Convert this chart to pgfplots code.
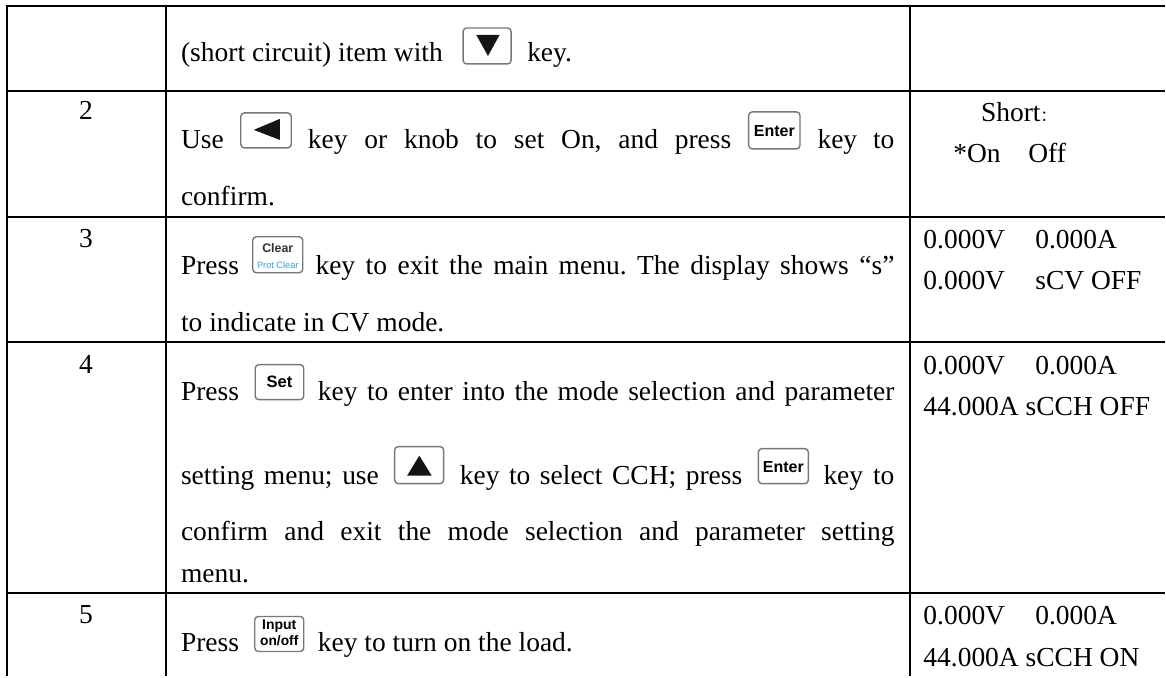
\documentclass[border=0pt]{standalone}
\usepackage{fontspec}
\setmainfont{Liberation Serif}
\newfontfamily\keyfont{Liberation Sans}
\newfontfamily\cjk{Noto Sans CJK SC}
\usepackage{pgfplots}
\pgfplotsset{compat=1.18}
\definecolor{keyedge}{HTML}{777777}
\definecolor{protblue}{HTML}{3A9AD9}
\pgfplotsset{rule/.style={black,line width=2bp,no marks,forget plot},
  arrowhead/.style={draw=none,fill=black!92,no marks,forget plot}}
\tikzset{tt/.style={anchor=base west,inner sep=0pt,font=\fontsize{27.5bp}{30bp}\selectfont\frenchspacing}}
\newcommand{\tx}[3]{\node[tt] at (axis cs:#1,#2) {#3};}
\newcommand{\jt}[4]{\node[tt] at (axis cs:#1,#2) {\makebox[#3bp][s]{#4}};}
\newcommand{\keybox}[4]{\draw[rounded corners=3.5bp,draw=keyedge,line width=1.4bp,fill=white] (axis cs:#1,#2) rectangle (axis cs:#3,#4);}
\newcommand{\keytext}[4]{\node[inner sep=0pt,font=\keyfont\bfseries\fontsize{#3bp}{#3bp}\selectfont] at (axis cs:#1,#2) {#4};}
\begin{document}
\begin{tikzpicture}
\begin{axis}[
  width=1166bp,height=677bp,scale only axis,
  xmin=0,xmax=1166,ymin=0,ymax=677,y dir=reverse,
  axis lines=none,clip=false,ticks=none]
\path (axis cs:0,0) rectangle (axis cs:1166,677);
% table rules
\addplot[rule] coordinates {(6,6) (1166,6)};
\addplot[rule] coordinates {(6,90.7) (1166,90.7)};
\addplot[rule] coordinates {(6,216.7) (1166,216.7)};
\addplot[rule] coordinates {(6,342.7) (1166,342.7)};
\addplot[rule] coordinates {(6,594) (1166,594)};
\addplot[rule] coordinates {(6.7,5) (6.7,677)};
\addplot[rule] coordinates {(166,5) (166,677)};
\addplot[rule] coordinates {(911,5) (911,677)};
% row numbers
\tx{79}{120}{2}
\tx{79}{248}{3}
\tx{79}{374}{4}
\tx{79}{624}{5}
% row 1
\tx{181}{62}{(short circuit) item with}
\keybox{463.5}{28}{511.5}{64}
\addplot[arrowhead] coordinates {(476.7,35) (500,35) (488.4,56) (476.7,35)};
\tx{527.5}{62}{key.}
% row 2
\tx{181}{148.5}{Use}
\keybox{241}{113}{291.5}{148}
\addplot[arrowhead] coordinates {(254,130) (280,119) (280,140) (254,130)};
\jt{308}{148.5}{423.7}{key or knob to set On, and press}
\keybox{749.3}{112}{800.7}{149}
\keytext{775}{131}{16}{Enter}
\jt{818}{148.5}{77}{key to}
\tx{181}{206}{confirm.}
% row 3
\tx{181}{275}{Press}
\keybox{253}{237}{303}{273}
\node[inner sep=0pt,font=\keyfont\bfseries\fontsize{12.4bp}{12.4bp}\selectfont,text=black!80] at (axis cs:278,248) {Clear};
\node[inner sep=0pt,font=\keyfont\fontsize{9.2bp}{9.2bp}\selectfont,text=protblue] at (axis cs:278,265) {Prot Clear};
\jt{315.6}{275}{579.4}{key to exit the main menu. The display shows “s”}
\tx{181}{332}{to indicate in CV mode.}
% row 4
\tx{181}{400.5}{Press}
\keybox{255.5}{365}{304}{400}
\keytext{279.7}{382}{16.5}{Set}
\jt{318}{400.5}{577}{key to enter into the mode selection and parameter}
\jt{181}{485}{198}{setting menu; use}
\keybox{395}{447}{444}{484}
\addplot[arrowhead] coordinates {(407.5,476) (432,476) (419.7,456) (407.5,476)};
\jt{460}{485}{282.7}{key to select CCH; press}
\keybox{759}{449}{809}{484}
\keytext{784}{467}{16}{Enter}
\jt{824}{485}{71}{key to}
\jt{181}{540.5}{714}{confirm and exit the mode selection and parameter setting}
\tx{181}{583}{menu.}
% row 5
\tx{181}{651.7}{Press}
\keybox{255}{617}{304}{652}
\keytext{279.5}{627}{14}{Input}
\keytext{279.5}{641.5}{13.8}{on/off}
\tx{318}{651.7}{key to turn on the load.}
% right column
\tx{981.7}{121.7}{Short{\cjk\fontsize{15bp}{15bp}\selectfont ：}}
\tx{954}{163}{*On}
\tx{1029}{163}{Off}
\tx{924}{248.3}{0.000V}
\tx{1036}{248.3}{0.000A}
\tx{924}{290}{0.000V}
\tx{1036}{290}{sCV OFF}
\tx{924}{375}{0.000V}
\tx{1036}{375}{0.000A}
\tx{924}{415.7}{44.000A sCCH OFF}
\tx{924}{625}{0.000V}
\tx{1036}{625}{0.000A}
\tx{924}{667}{44.000A sCCH ON}
\end{axis}
\end{tikzpicture}
\end{document}
